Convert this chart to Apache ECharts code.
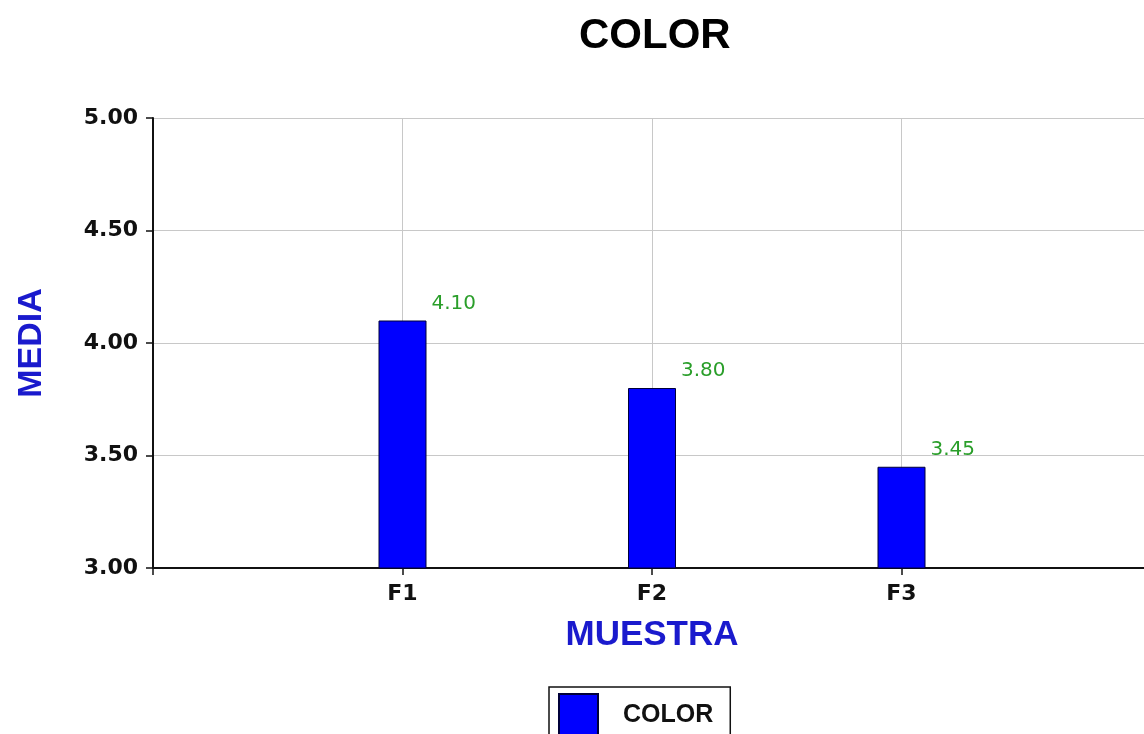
<!DOCTYPE html>
<html>
<head>
<meta charset="utf-8">
<script src="https://cdn.jsdelivr.net/npm/echarts@6/dist/echarts.min.js"></script>
<style>html,body{margin:0;padding:0;background:#fff;}#c{width:1144px;height:734px;}</style>
</head>
<body>
<div id="c"></div>
<script>
const titleText = 'COLOR';
const seriesName = 'COLOR';
const categories = ['F1', 'F2', 'F3'];
const values = [4.10, 3.80, 3.45];
const yTicks = { min: 3.0, max: 5.0, interval: 0.5 };
const xAxisName = 'MUESTRA';
const yAxisName = 'MEDIA';

const chart = echarts.init(document.getElementById('c'));
const barData = values.map((v, i) => [i + 1, v]);

chart.setOption({
  backgroundColor: '#ffffff',
  animation: false,
  title: {
    text: titleText,
    left: 574, top: 10,
    textStyle: { fontFamily: 'Liberation Sans', fontWeight: 'bold', fontSize: 42, color: '#000' }
  },
  grid: { left: 153, right: -7, top: 118, bottom: 166, outerBoundsMode: 'none', containLabel: false },
  xAxis: {
    type: 'value', min: 0, max: categories.length + 1, interval: 1,
    name: xAxisName, nameLocation: 'middle', nameGap: 50,
    nameTextStyle: { fontFamily: 'Liberation Sans', fontWeight: 'bold', fontSize: 35, color: '#1a1acd' },
    axisLine: { show: true, lineStyle: { color: '#111', width: 2 } },
    axisTick: { show: true, length: 7, lineStyle: { color: '#111', width: 1.5 } },
    axisLabel: {
      margin: 15, fontFamily: 'DejaVu Sans', fontWeight: 'bold', fontSize: 22, color: '#111',
      formatter: v => categories[v - 1] || ''
    },
    splitLine: { show: true, lineStyle: { color: '#c8c8c8', width: 1 } }
  },
  yAxis: {
    type: 'value', min: yTicks.min, max: yTicks.max, interval: yTicks.interval,
    name: yAxisName, nameLocation: 'middle', nameGap: 104, nameRotate: 90,
    nameTextStyle: { fontFamily: 'Liberation Sans', fontWeight: 'bold', fontSize: 34, color: '#1a1acd' },
    axisLine: { show: true, lineStyle: { color: '#111', width: 2 } },
    axisTick: { show: true, length: 7, lineStyle: { color: '#111', width: 1.5 } },
    axisLabel: {
      margin: 15, fontFamily: 'DejaVu Sans', fontWeight: 'bold', fontSize: 22, color: '#111',
      formatter: v => v.toFixed(2)
    },
    splitLine: { show: true, lineStyle: { color: '#c8c8c8', width: 1 } }
  },
  legend: {
    show: true, left: 549, top: 687,
    padding: [6, 17, 6, 9],
    borderColor: '#111', borderWidth: 1.5,
    itemWidth: 39, itemHeight: 42,
    icon: 'rect',
    textStyle: { fontFamily: 'Liberation Sans', fontWeight: 'bold', fontSize: 25, color: '#111', padding: [0, 0, 0, 20] },
    data: [seriesName]
  },
  series: [{
    name: seriesName,
    type: 'bar',
    data: barData,
    barWidth: 48,
    clip: true,
    itemStyle: { color: '#0000ff', borderColor: '#00003a', borderWidth: 1 },
    label: {
      show: true, position: [53, -27],
      fontFamily: 'DejaVu Sans', fontSize: 20, color: '#2a9e2a',
      formatter: p => p.value[1].toFixed(2)
    }
  }]
});
</script>
</body>
</html>
